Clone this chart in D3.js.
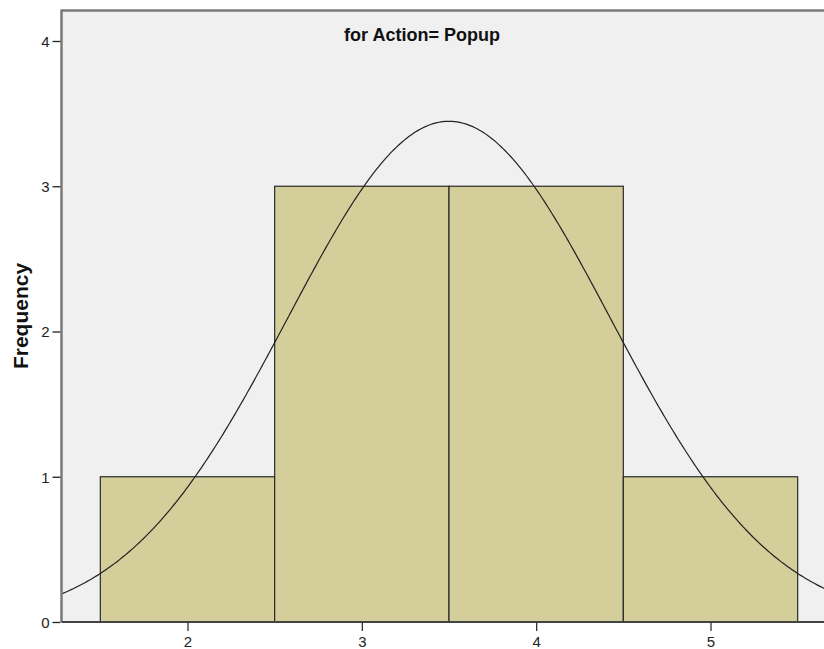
<!DOCTYPE html>
<html><head><meta charset="utf-8">
<script src="https://cdn.jsdelivr.net/npm/d3@7"></script>
<style>body{margin:0;background:#fff}svg{display:block}</style>
</head><body>
<svg id="c" width="824" height="649"></svg>
<script>
const binStarts = [1.5, 2.5, 3.5, 4.5];
const binWidth = 1;
const counts = [1, 3, 3, 1];
const binValues = [2, 3, 4, 5];
const xTicks = [2, 3, 4, 5];
const yTicks = [0, 1, 2, 3, 4];
const title = "for Action= Popup";
const yLabel = "Frequency";

// fitted normal from data
const N = d3.sum(counts);
const mean = d3.sum(binValues.map((v,i)=>v*counts[i]))/N;
const sd = Math.sqrt(d3.sum(binValues.map((v,i)=>counts[i]*(v-mean)**2))/(N-1));

const svg = d3.select("#c");
const L = 61.5, T = 10.5, B = 622, R = 840;
const xs = d3.scaleLinear().domain([2,5]).range([187.5,710.5]);
const ys = d3.scaleLinear().domain([0,4]).range([B,41]);
const FONT = "Liberation Sans, Arial, sans-serif";

svg.append("defs").append("clipPath").attr("id","clip")
  .append("rect").attr("x",L).attr("y",T).attr("width",R-L).attr("height",B-T);

svg.append("rect").attr("x",L).attr("y",T).attr("width",R-L).attr("height",B-T).attr("fill","#f0f0f0");

const g = svg.append("g").attr("clip-path","url(#clip)");
g.selectAll("rect.bar").data(binStarts).join("rect").attr("class","bar")
  .attr("x",d=>xs(d)).attr("width",d=>xs(d+binWidth)-xs(d))
  .attr("y",(d,i)=>ys(counts[i])).attr("height",(d,i)=>ys(0)-ys(counts[i]))
  .attr("fill","#d3ce9a").attr("stroke","#2a2a2a").attr("stroke-width",1.2);

const dom = xs.invert(L), dom2 = xs.invert(R);
const pts = d3.range(0,401).map(i=>{const v=dom+(dom2-dom)*i/400;return [v, N*binWidth/(sd*Math.sqrt(2*Math.PI))*Math.exp(-0.5*((v-mean)/sd)**2)];});
g.append("path").datum(pts).attr("fill","none").attr("stroke","#222").attr("stroke-width",1.2)
  .attr("d",d3.line().x(d=>xs(d[0])).y(d=>ys(d[1])));

// frame
svg.append("line").attr("x1",L).attr("x2",R).attr("y1",T).attr("y2",T).attr("stroke","#7a7a7a").attr("stroke-width",2.5);
svg.append("line").attr("x1",L).attr("x2",L).attr("y1",T-1).attr("y2",B).attr("stroke","#7a7a7a").attr("stroke-width",2.5);
svg.append("line").attr("x1",L).attr("x2",R).attr("y1",B).attr("y2",B).attr("stroke","#444").attr("stroke-width",2);

// axes
const ya = svg.append("g").attr("transform",`translate(${L-1},0)`)
  .call(d3.axisLeft(ys).tickValues(yTicks).tickFormat(d3.format("d")).tickSize(8).tickPadding(3));
ya.select(".domain").remove();
ya.selectAll("line").attr("stroke","#222").attr("stroke-width",1.3);
ya.selectAll("text").attr("font-family",FONT).attr("font-size",15).attr("fill","#222").attr("dy","0.35em");

const xa = svg.append("g").attr("transform",`translate(0,${B})`)
  .call(d3.axisBottom(xs).tickValues(xTicks).tickFormat(d3.format("d")).tickSize(9).tickPadding(5));
xa.select(".domain").remove();
xa.selectAll("line").attr("stroke","#333").attr("stroke-width",1.3);
xa.selectAll("text").attr("font-family",FONT).attr("font-size",15).attr("fill","#222");

svg.append("text").attr("x",422).attr("y",41).attr("text-anchor","middle")
  .attr("font-family",FONT).attr("font-weight","bold").attr("font-size",18).attr("fill","#111")
  .text(title);
svg.append("text").attr("transform","translate(28,316) rotate(-90)").attr("text-anchor","middle")
  .attr("font-family",FONT).attr("font-weight","bold").attr("font-size",21).attr("fill","#111")
  .text(yLabel);
</script>
</body></html>
